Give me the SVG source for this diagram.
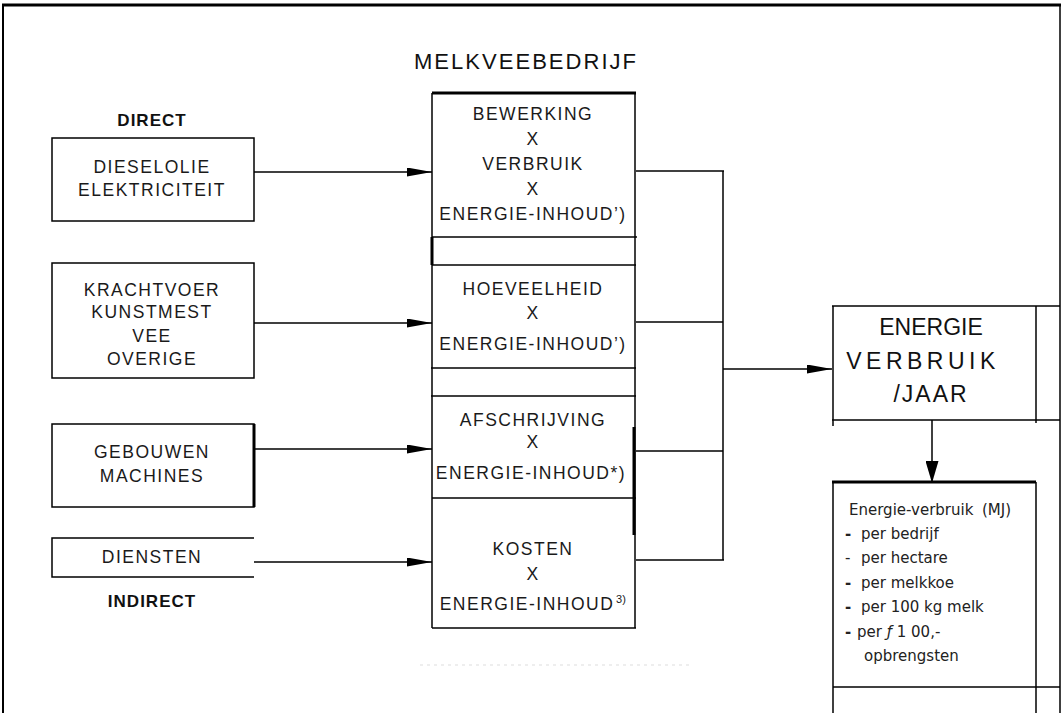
<svg xmlns="http://www.w3.org/2000/svg" width="1064" height="713" viewBox="0 0 1064 713">
<style>
.ln{stroke:#000;stroke-width:1.5;fill:none}
.thk{stroke:#000;stroke-width:3;fill:none}
.t{font-family:"Liberation Sans",Arial,sans-serif;font-size:17.5px;letter-spacing:1.5px;fill:#1a1a1a;text-anchor:middle}
.b{font-family:"Liberation Sans",Arial,sans-serif;font-size:17px;font-weight:bold;letter-spacing:1px;fill:#111;text-anchor:middle}
.big{font-family:"Liberation Sans",Arial,sans-serif;font-size:23px;fill:#111;text-anchor:middle}
.g{font-family:"DejaVu Sans","Liberation Sans",sans-serif;font-size:15px;fill:#222}
</style>
<defs>
<marker id="ah" viewBox="0 0 25 9" refX="25" refY="4.5" markerWidth="25" markerHeight="9" markerUnits="userSpaceOnUse" orient="auto">
<path d="M0,0 L25,4.5 L0,9 Z" fill="#000"/>
</marker>
<marker id="ahd" viewBox="0 0 22 13" refX="22" refY="6.5" markerWidth="22" markerHeight="13" markerUnits="userSpaceOnUse" orient="auto">
<path d="M0,0 L22,6.5 L0,13 Z" fill="#000"/>
</marker>
</defs>
<rect width="1064" height="713" fill="#fff"/>
<g id="frame">
<line class="thk" x1="2" y1="5" x2="1061" y2="5"/>
<line x1="3" y1="4" x2="3" y2="713" stroke="#000" stroke-width="2"/>
<line class="ln" x1="1060" y1="4" x2="1060" y2="713"/>
</g>
<text class="big" x="525" y="69" textLength="222" style="font-size:22px">MELKVEEBEDRIJF</text>
<text class="b" x="152" y="126">DIRECT</text>
<text class="b" x="152" y="607">INDIRECT</text>
<g id="src-direct1">
<rect class="ln" x="52" y="138" width="202" height="83"/>
<text class="t" x="152" y="173">DIESELOLIE</text>
<text class="t" x="152" y="196">ELEKTRICITEIT</text>
</g>
<g id="src-direct2">
<rect class="ln" x="52" y="263" width="202" height="115"/>
<text class="t" x="152" y="296">KRACHTVOER</text>
<text class="t" x="152" y="318">KUNSTMEST</text>
<text class="t" x="152" y="342">VEE</text>
<text class="t" x="152" y="365">OVERIGE</text>
</g>
<g id="src-indirect1">
<rect class="ln" x="52" y="424" width="202" height="83"/>
<line x1="254" y1="424" x2="254" y2="507" stroke="#000" stroke-width="3"/>
<text class="t" x="152" y="458">GEBOUWEN</text>
<text class="t" x="152" y="482">MACHINES</text>
</g>
<g id="src-indirect2">
<path class="ln" d="M254,538 H52 V577 H254"/>
<text class="t" x="152" y="563">DIENSTEN</text>
</g>
<g id="calc-column">
<line class="thk" x1="432" y1="93" x2="636" y2="93"/>
<line class="ln" x1="432" y1="93" x2="432" y2="628"/>
<line x1="432" y1="237" x2="432" y2="265" stroke="#000" stroke-width="3"/>
<line class="ln" x1="635" y1="93" x2="635" y2="628"/>
<line x1="634" y1="427" x2="634" y2="535" stroke="#000" stroke-width="3"/>
<line class="ln" x1="432" y1="237" x2="637" y2="237"/>
<line class="ln" x1="432" y1="265" x2="636" y2="265"/>
<line class="ln" x1="431" y1="368" x2="636" y2="368"/>
<line class="ln" x1="431" y1="396" x2="636" y2="396"/>
<line class="ln" x1="432" y1="498" x2="636" y2="498"/>
<line class="ln" x1="432" y1="628" x2="636" y2="628"/>
</g>
<g id="calc-bewerking">
<text class="t" x="533" y="120">BEWERKING</text>
<text class="t" x="533" y="145">X</text>
<text class="t" x="533" y="170">VERBRUIK</text>
<text class="t" x="533" y="195">X</text>
<text class="t" x="533" y="220">ENERGIE-INHOUD’)</text>
</g>
<g id="calc-hoeveelheid">
<text class="t" x="533" y="295">HOEVEELHEID</text>
<text class="t" x="533" y="319">X</text>
<text class="t" x="533" y="350">ENERGIE-INHOUD’)</text>
</g>
<g id="calc-afschrijving">
<text class="t" x="533" y="426">AFSCHRIJVING</text>
<text class="t" x="533" y="448">X</text>
<text class="t" x="531" y="479">ENERGIE-INHOUD*)</text>
</g>
<g id="calc-kosten">
<text class="t" x="533" y="555">KOSTEN</text>
<text class="t" x="533" y="580">X</text>
<text class="t" x="527" y="610">ENERGIE-INHOUD</text>
<text class="t" x="621" y="603" style="font-size:11px;letter-spacing:0">3)</text>
</g>
<g id="energie-verbruik">
<line class="ln" x1="832" y1="306" x2="1060" y2="306"/>
<line class="ln" x1="832" y1="420" x2="1060" y2="420"/>
<line class="ln" x1="833" y1="306" x2="833" y2="426"/>
<line class="ln" x1="1036" y1="306" x2="1036" y2="423"/>
<text class="big" x="931" y="335">ENERGIE</text>
<text class="big" x="923" y="369" style="letter-spacing:4.5px">VERBRUIK</text>
<text class="big" x="931" y="402" style="letter-spacing:2px">/JAAR</text>
</g>
<g id="resultaat">
<line class="thk" x1="832" y1="482" x2="1036" y2="482"/>
<line class="ln" x1="833" y1="482" x2="833" y2="713"/>
<line class="ln" x1="1036" y1="482" x2="1036" y2="713"/>
<line class="ln" x1="833" y1="687" x2="1060" y2="687"/>
<text class="g" x="849" y="515">Energie-verbruik</text>
<text class="g" x="982" y="515">(MJ)</text>
<text class="g" x="845" y="539" font-weight="bold">-</text>
<text class="g" x="861" y="539">per bedrijf</text>
<text class="g" x="845" y="563">-</text>
<text class="g" x="861" y="563">per hectare</text>
<text class="g" x="845" y="588" font-weight="bold">-</text>
<text class="g" x="861" y="588">per melkkoe</text>
<text class="g" x="845" y="612" font-weight="bold">-</text>
<text class="g" x="861" y="612">per 100 kg melk</text>
<text class="g" x="845" y="637" font-weight="bold">-</text>
<text class="g" x="857" y="637">per <tspan font-style="italic">ƒ</tspan> 1 00,-</text>
<text class="g" x="864" y="661">opbrengsten</text>
</g>
<g id="connectors">
<line class="ln" x1="254" y1="172" x2="432" y2="172" marker-end="url(#ah)"/>
<line class="ln" x1="254" y1="323" x2="432" y2="323" marker-end="url(#ah)"/>
<line class="ln" x1="254" y1="449" x2="432" y2="449" marker-end="url(#ah)"/>
<line class="ln" x1="254" y1="562" x2="432" y2="562" marker-end="url(#ah)"/>
<line class="ln" x1="636" y1="171" x2="724" y2="171"/>
<line class="ln" x1="636" y1="322" x2="723" y2="322"/>
<line class="ln" x1="636" y1="451" x2="723" y2="451"/>
<line class="ln" x1="636" y1="560" x2="724" y2="560"/>
<line class="ln" x1="723" y1="171" x2="723" y2="560"/>
<line class="ln" x1="723" y1="369" x2="832" y2="369" marker-end="url(#ah)"/>
<line class="ln" x1="932" y1="420" x2="932" y2="483" marker-end="url(#ahd)"/>
</g>
<line x1="420" y1="665" x2="693" y2="665" stroke="#ddd" stroke-width="1" stroke-dasharray="3,4"/>
</svg>
